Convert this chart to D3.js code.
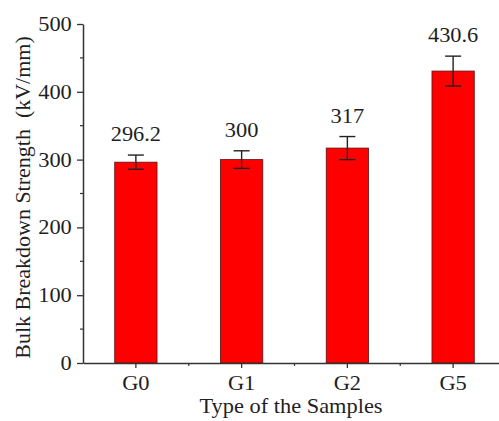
<!DOCTYPE html>
<html>
<head>
<meta charset="utf-8">
<script src="https://cdn.jsdelivr.net/npm/d3@7"></script>
<style>
  body { margin: 0; background: #fff; }
  text { font-family: "Liberation Serif", "Times New Roman", serif; fill: #1f1f1f; }
</style>
</head>
<body>
<div id="chart"></div>
<script>
const SAMPLES = ['G0', 'G1', 'G2', 'G5']
const STRENGTH = [296.2, 300, 317, 430.6]
const ERRORS = [10.5, 13, 17, 22]
const Y_TICKS = [0, 100, 200, 300, 400, 500]
const Y_MINOR = [50, 150, 250, 350, 450]

const width = 499
const height = 421
const axisColor = '#333'
const stretch = 1.12  // the source figure is a bit wider than tall

const svg = d3.select('#chart').append('svg')
  .attr('width', width)
  .attr('height', height)

const x = d3.scaleBand()
  .domain(SAMPLES)
  .range([83, 506])
  .paddingInner(0.6)
  .paddingOuter(0.3)

const y = d3.scaleLinear()
  .domain([0, 500])
  .range([363, 24])

const data = SAMPLES.map((s, i) => ({ s, v: STRENGTH[i], e: ERRORS[i] }))

// bars
svg.selectAll('rect.bar').data(data).join('rect')
  .attr('class', 'bar')
  .attr('x', d => x(d.s))
  .attr('y', d => y(d.v))
  .attr('width', x.bandwidth())
  .attr('height', d => y(0) - y(d.v))
  .attr('fill', '#ff0000')
  .attr('stroke', '#5a1010')
  .attr('stroke-width', 0.8)

// error bars
const cx = d => x(d.s) + x.bandwidth() / 2
const err = svg.append('g')
  .attr('stroke', '#222')
  .attr('stroke-width', 1.4)
err.selectAll('line.v').data(data).join('line')
  .attr('x1', cx).attr('x2', cx)
  .attr('y1', d => y(d.v + d.e)).attr('y2', d => y(d.v - d.e))
err.selectAll('line.top').data(data).join('line')
  .attr('x1', d => cx(d) - 8).attr('x2', d => cx(d) + 8)
  .attr('y1', d => y(d.v + d.e)).attr('y2', d => y(d.v + d.e))
err.selectAll('line.bot').data(data).join('line')
  .attr('x1', d => cx(d) - 8).attr('x2', d => cx(d) + 8)
  .attr('y1', d => y(d.v - d.e)).attr('y2', d => y(d.v - d.e))

// value labels
svg.selectAll('text.val').data(data).join('text')
  .attr('class', 'val')
  .attr('transform', d => `translate(${cx(d)},${y(d.v + d.e) - 14}) scale(${stretch},1)`)
  .attr('text-anchor', 'middle')
  .attr('font-size', 20)
  .text(d => d.v)

// y axis
const yAxis = svg.append('g')
  .attr('transform', 'translate(83,0)')
  .call(d3.axisLeft(y).tickValues(Y_TICKS).tickSize(6).tickPadding(4).tickSizeOuter(0))
yAxis.select('.domain').attr('stroke', axisColor).attr('stroke-width', 1.5)
yAxis.selectAll('.tick line').attr('stroke', axisColor).attr('stroke-width', 1.3)
yAxis.selectAll('.tick text')
  .attr('font-size', 20)
  .attr('font-family', '"Liberation Serif", serif')
  .attr('fill', '#1f1f1f')
  .attr('transform', `scale(${stretch},1)`)
yAxis.selectAll('line.minor').data(Y_MINOR).join('line')
  .attr('class', 'minor')
  .attr('x1', -3).attr('x2', 0)
  .attr('y1', d => y(d)).attr('y2', d => y(d))
  .attr('stroke', axisColor).attr('stroke-width', 1.2)

// x axis
const xAxis = svg.append('g')
  .attr('transform', `translate(0,${y(0)})`)
  .call(d3.axisBottom(x).tickSize(5).tickPadding(8).tickSizeOuter(0))
xAxis.select('.domain').attr('stroke', axisColor).attr('stroke-width', 1.5)
xAxis.selectAll('.tick line').attr('stroke', axisColor).attr('stroke-width', 1.3)
xAxis.selectAll('.tick text')
  .attr('font-size', 20)
  .attr('font-family', '"Liberation Serif", serif')
  .attr('fill', '#1f1f1f')
  .attr('transform', `scale(${stretch},1)`)
xAxis.selectAll('line.minor').data(SAMPLES.slice(1)).join('line')
  .attr('class', 'minor')
  .attr('x1', d => x(d) - x.step() * x.paddingInner() / 2)
  .attr('x2', d => x(d) - x.step() * x.paddingInner() / 2)
  .attr('y1', 0).attr('y2', 3)
  .attr('stroke', axisColor).attr('stroke-width', 1.2)

// axis titles
svg.append('text')
  .attr('transform', `translate(23,${(y(0) + y(500)) / 2 + 4}) rotate(-90) scale(1.1,1)`)
  .attr('text-anchor', 'middle')
  .attr('dy', '0.35em')
  .attr('font-size', 20)
  .style('white-space', 'pre')
  .text('Bulk Breakdown Strength  (kV/mm)')

svg.append('text')
  .attr('transform', `translate(291,413) scale(${stretch},1)`)
  .attr('text-anchor', 'middle')
  .attr('font-size', 20)
  .text('Type of the Samples')
</script>
</body>
</html>
